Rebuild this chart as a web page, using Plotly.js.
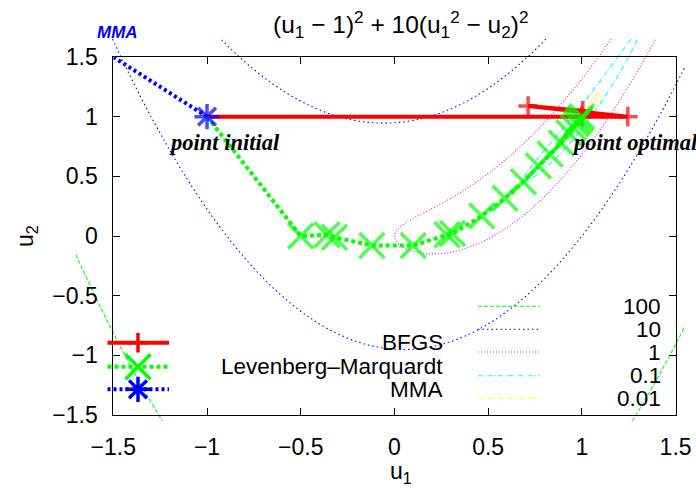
<!DOCTYPE html>
<html><head><meta charset="utf-8">
<script src="https://cdn.plot.ly/plotly-3.0.1.min.js"></script>
<style>html,body{margin:0;padding:0;background:#fff}#chart{width:696px;height:488px}</style>
</head><body><div id="chart"></div>
<script>
// ---- data ----
const bfgsU1 = [-1, 1.245, 0.713, 1.005, 1.0];
const bfgsU2 = [1, 1.0, 1.09, 1.05, 1.0];
const lmU1 = [-1, -0.5, -0.36, -0.32, -0.12, 0.10, 0.28, 0.31, 0.466, 0.59, 0.688, 0.768, 0.83, 0.89, 0.93, 0.955, 0.97, 0.98, 0.99, 1.0];
const lmU2 = [1, 0.0, 0.01, -0.01, -0.08, -0.08, 0.01, 0.02, 0.168, 0.316, 0.455, 0.587, 0.687, 0.78, 0.865, 0.91, 0.94, 0.96, 0.98, 1.0];
const mmaU1 = [-1, -1.6];
const mmaU2 = [1, 1.6];
const methodNames = ['BFGS', 'Levenberg\u2013Marquardt', 'MMA'];
const contourLevels = [100, 10, 1, 0.1, 0.01];
const contourLabels = ['100', '10', '1', '0.1', '0.01'];
const axisTicks = [-1.5, -1, -0.5, 0, 0.5, 1, 1.5];
const titleText = '(u<sub>1</sub> \u2212 1)<sup>2</sup> + 10(u<sub>1</sub><sup>2</sup> \u2212 u<sub>2</sub>)<sup>2</sup>';

// ---- geometry (pixels) ----
const W = 696, H = 488;
const PL = 113.3, PR = 675.6, PT = 57, PB = 415;
const pxU1 = (PR - PL) / 3, pxU2 = (PB - PT) / 3;
const xPix = u => PL + (u + 1.5) * pxU1;
const yPix = u => PT + (1.5 - u) * pxU2;
const cU1 = [-1.7, 1.55], cU2 = [-1.55, 1.65];

// sampled objective from the title, for the contour lines
const gridU1 = [], gridU2 = [];
for (let i = 0; i <= 325; i++) gridU1.push(+(cU1[0] + i * 0.01).toFixed(3));
for (let j = 0; j <= 320; j++) gridU2.push(+(cU2[0] + j * 0.01).toFixed(3));
const zGrid = gridU2.map(b => gridU1.map(a => (a - 1) ** 2 + 10 * (a * a - b) ** 2));

const contourStyle = [
  {color: '#00ff00', dash: '4px,2px'},
  {color: '#0000ff', dash: '1.5px,3px'},
  {color: '#ff00ff', dash: '1px,2px'},
  {color: '#00ffff', dash: '5px,2px,1px,2px'},
  {color: '#ffff00', dash: '5px,2px,1px,2px'}
];
const methodStyle = [
  {color: '#ff0000', dash: 'solid', symbol: 'cross-thin', size: 14},
  {color: '#00ff00', dash: '4px,3px', symbol: 'x-thin', size: 25},
  {color: '#0000ff', dash: '3px,3px', symbol: 'asterisk', size: 21}
];
const methodData = [[bfgsU1, bfgsU2], [lmU1, lmU2], [mmaU1, mmaU2]];

const traces = [];
contourLevels.forEach((lv, k) => {
  traces.push({type: 'contour', x: gridU1, y: gridU2, z: zGrid, xaxis: 'x', yaxis: 'y',
    autocontour: false, contours: {start: lv, end: lv, size: 1, coloring: 'none', showlabels: false},
    line: {color: contourStyle[k].color, width: 1.1, dash: contourStyle[k].dash, smoothing: 1},
    showscale: false, hoverinfo: 'skip', showlegend: false});
});
methodData.forEach((d, k) => {
  const s = methodStyle[k];
  // the start point (-1, 1) is hidden under the MMA asterisk in the reference
  const sizes = d[0].map((v, i) => (i === 0 && k < 2) ? 0 : s.size);
  traces.push({type: 'scatter', mode: 'lines+markers', x: d[0], y: d[1], xaxis: 'x2', yaxis: 'y2',
    line: {color: s.color, width: 4, dash: s.dash},
    marker: {symbol: s.symbol, size: sizes, color: s.color, line: {color: s.color, width: 3.5}},
    showlegend: false, hoverinfo: 'skip'});
});

// ---- key (legend) samples, drawn in a pixel-space overlay ----
const keyMethodRows = [342.7, 366.7, 389.3];
const keyContourRows = [306.3, 329.3, 352, 375.7, 398.3];
methodNames.forEach((n, k) => {
  const s = methodStyle[k], yy = keyMethodRows[k];
  traces.push({type: 'scatter', mode: 'lines', x: [107.5, 169], y: [yy, yy], xaxis: 'x3', yaxis: 'y3',
    line: {color: s.color, width: 4, dash: s.dash}, showlegend: false, hoverinfo: 'skip'});
  traces.push({type: 'scatter', mode: 'markers', x: [138], y: [yy], xaxis: 'x3', yaxis: 'y3',
    marker: {symbol: s.symbol, size: s.size, color: s.color, line: {color: s.color, width: 3.5}},
    showlegend: false, hoverinfo: 'skip'});
});
contourLabels.forEach((n, k) => {
  const yy = keyContourRows[k];
  traces.push({type: 'scatter', mode: 'lines', x: [478, 540], y: [yy, yy], xaxis: 'x3', yaxis: 'y3',
    line: {color: contourStyle[k].color, width: 1.1, dash: contourStyle[k].dash}, showlegend: false, hoverinfo: 'skip'});
});

const sans = 'Liberation Sans, Arial, sans-serif';
const FS = 23;
const ann = [];
ann.push({xref: 'paper', yref: 'paper', x: 401 / W, y: 1 - 24 / H, xanchor: 'center', yanchor: 'middle',
  text: titleText, showarrow: false, font: {family: sans, size: 24.5, color: '#000'}});
ann.push({xref: 'paper', yref: 'paper', x: 401 / W, y: 1 - 472 / H, xanchor: 'center', yanchor: 'middle',
  text: 'u<sub>1</sub>', showarrow: false, font: {family: sans, size: FS, color: '#000'}});
ann.push({xref: 'paper', yref: 'paper', x: 26 / W, y: 1 - 236 / H, xanchor: 'center', yanchor: 'middle',
  text: 'u<sub>2</sub>', textangle: -90, showarrow: false, font: {family: sans, size: FS, color: '#000'}});
ann.push({xref: 'paper', yref: 'paper', x: 117.5 / W, y: 1 - 32.5 / H, xanchor: 'center', yanchor: 'middle',
  text: '<b><i>MMA</i></b>', showarrow: false, font: {family: sans, size: 17, color: '#0000ff'}});
ann.push({xref: 'x2', yref: 'y2', x: -1.213, y: 0.78, xanchor: 'left', yanchor: 'middle',
  text: '<b><i>point initial</i></b>', showarrow: false, font: {family: 'Liberation Serif, Times New Roman, serif', size: 22.5, color: '#000'}});
ann.push({xref: 'x2', yref: 'y2', x: 0.937, y: 0.78, xanchor: 'left', yanchor: 'middle',
  text: '<b><i>point optimal</i></b>', showarrow: false, font: {family: 'Liberation Serif, Times New Roman, serif', size: 22.5, color: '#000'}});
methodNames.forEach((n, k) => ann.push({xref: 'paper', yref: 'paper', x: 445 / W, y: 1 - keyMethodRows[k] / H,
  xanchor: 'right', yanchor: 'middle', text: n, showarrow: false, font: {family: sans, size: 22.5, color: '#000'}}));
contourLabels.forEach((n, k) => ann.push({xref: 'paper', yref: 'paper', x: 663 / W, y: 1 - keyContourRows[k] / H,
  xanchor: 'right', yanchor: 'middle', text: n, showarrow: false, font: {family: sans, size: 22.5, color: '#000'}}));

const frameAxis = {range: [-1.5, 1.5], tickvals: axisTicks, ticks: 'inside', ticklen: 7, tickwidth: 1, tickcolor: '#000',
  mirror: 'ticks', showline: true, linecolor: '#000', linewidth: 1, showgrid: false, zeroline: false,
  tickfont: {family: sans, size: FS, color: '#000'}, fixedrange: true};

const layout = {
  width: W, height: H, margin: {l: 0, r: 0, t: 0, b: 0},
  paper_bgcolor: '#fff', plot_bgcolor: 'rgba(0,0,0,0)', showlegend: false,
  xaxis: {domain: [xPix(cU1[0]) / W, xPix(cU1[1]) / W], range: cU1, visible: false, anchor: 'y', fixedrange: true},
  yaxis: {domain: [1 - yPix(cU2[0]) / H, 1 - yPix(cU2[1]) / H], range: cU2, visible: false, anchor: 'x', fixedrange: true},
  xaxis2: Object.assign({}, frameAxis, {domain: [PL / W, PR / W], anchor: 'y2', ticklabelstandoff: 11}),
  yaxis2: Object.assign({}, frameAxis, {domain: [1 - PB / H, 1 - PT / H], anchor: 'x2', ticklabelstandoff: 10}),
  xaxis3: {domain: [0, 1], range: [0, W], visible: false, anchor: 'y3', fixedrange: true},
  yaxis3: {domain: [0, 1], range: [H, 0], visible: false, anchor: 'x3', fixedrange: true},
  annotations: ann
};
Plotly.newPlot('chart', traces, layout, {staticPlot: true, displayModeBar: false});
</script></body></html>
